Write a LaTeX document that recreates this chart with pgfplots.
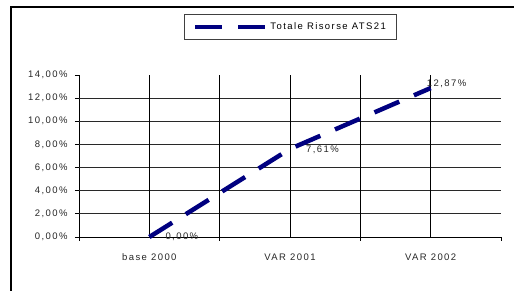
\documentclass[border=0pt]{standalone}
\usepackage{fontspec}
\setmainfont{Liberation Sans}[LetterSpace=15]
\usepackage{pgfplots}
\pgfplotsset{compat=1.18}
\definecolor{navyline}{RGB}{0,0,128}
\definecolor{gridc}{RGB}{40,40,40}
\begin{document}
\begin{tikzpicture}[x=1pt,y=1pt]
\useasboundingbox (0,0) rectangle (514,291);
\draw[line width=1.4pt] (11,0) -- (11,284) -- (514,284);
\begin{axis}[
  at={(79pt,54pt)}, anchor=south west,
  scale only axis, width=422pt, height=162pt,
  xmin=-0.5, xmax=2.5, ymin=0, ymax=14,
  axis x line*=bottom, axis y line*=left,
  axis line style={-, line width=0.9pt, black},
  tick align=outside, major tick length=4pt,
  every tick/.style={black, line width=0.9pt},
  xtick={-0.5,0.5,1.5,2.5}, xticklabels={},
  extra x ticks={0,1,2},
  extra x tick labels={base 2000, VAR 2001, VAR 2002},
  extra x tick style={major tick length=0pt, tick label style={yshift=-13pt}},
  ytick={0,2,4,6,8,10,12,14},
  yticklabels={{0,00\%},{2,00\%},{4,00\%},{6,00\%},{8,00\%},{10,00\%},{12,00\%},{14,00\%}},
  yticklabel style={xshift=-4pt},
  tick label style={font=\fontsize{9.5}{11}\selectfont, text=black!85},
  legend style={at={(0.501,1.296)}, anchor=center, draw=black!75, line width=0.8pt,
    font=\fontsize{9.5}{11}\selectfont, inner xsep=9pt, inner ysep=6pt},
  legend image code/.code={\draw[#1] (0pt,0pt) -- (71pt,0pt);},
  clip=false,
]
\foreach \yy in {2,4,6,8,10,12} {
  \edef\tmp{\noexpand\draw[gridc, line width=0.8pt] (axis cs:-0.5,\yy) -- (axis cs:2.5,\yy);}\tmp
}
\foreach \xx in {0,0.5,1,1.5,2} {
  \edef\tmp{\noexpand\draw[black, line width=0.8pt] (axis cs:\xx,0) -- (axis cs:\xx,14);}\tmp
}
\addplot[navyline, line width=4.5pt, dash pattern=on 27pt off 16pt] coordinates {(0,0) (1,7.61) (2,12.87)};
\addlegendentry{Totale Risorse ATS21}
\node[anchor=west, inner sep=0pt, font=\fontsize{9.5}{11}\selectfont, text=black!85] at (axis cs:0,0) [xshift=16pt] {0,00\%};
\node[anchor=west, inner sep=0pt, font=\fontsize{9.5}{11}\selectfont, text=black!85] at (axis cs:1,7.61) [xshift=16pt,yshift=-1pt] {7,61\%};
\node[anchor=west, inner sep=0pt, font=\fontsize{9.5}{11}\selectfont, text=black!85] at (axis cs:2,12.87) [xshift=-4pt,yshift=4pt] {12,87\%};
\end{axis}
\end{tikzpicture}
\end{document}
